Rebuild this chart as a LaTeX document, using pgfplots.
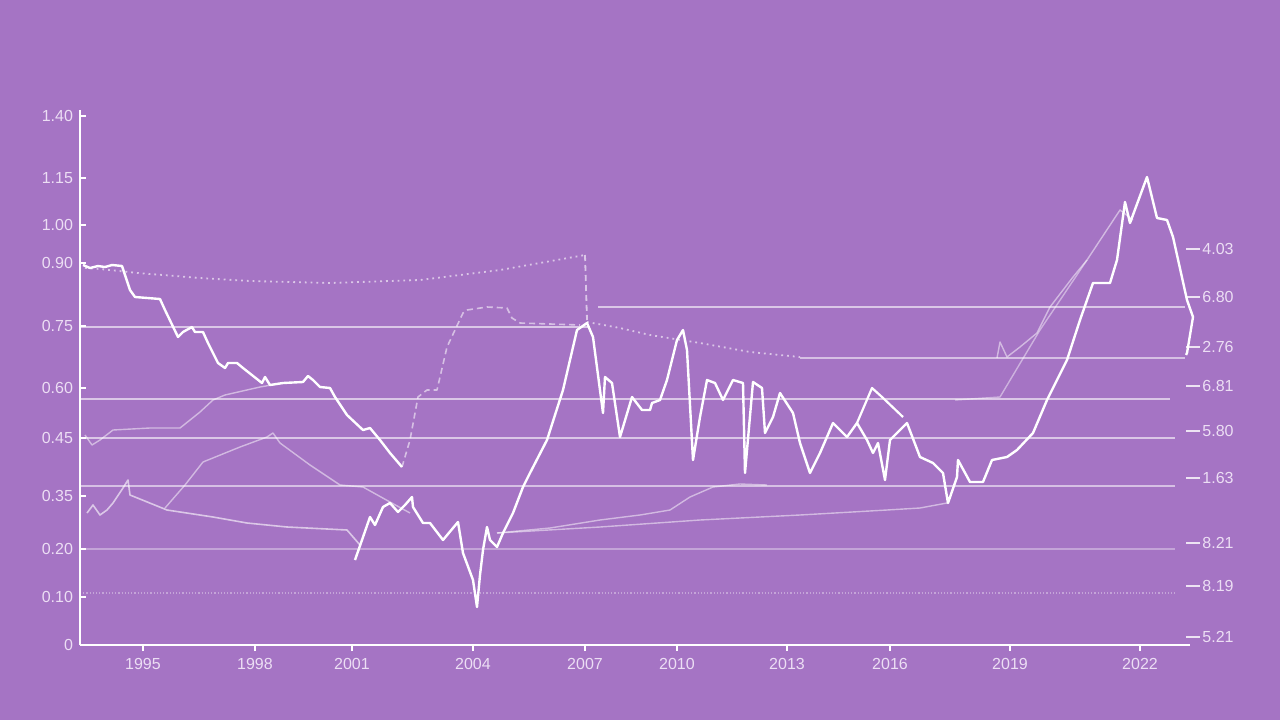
\documentclass[border=0pt]{standalone}
\usepackage{pgfplots}
\pgfplotsset{compat=1.18}
\usepackage{fontspec}
\setmainfont{Liberation Sans}
\definecolor{bg}{RGB}{165,116,196}
\definecolor{txt}{RGB}{236,222,244}
\newcommand{\rlab}[2]{%
  \draw[white, opacity=0.8, line width=0.6pt] (axis cs:1186,#1) -- (axis cs:1200,#1);
  \node[anchor=west, text=txt, font=\fontsize{8}{9}\selectfont, inner sep=1pt] at (axis cs:1200,#1) {#2};}
\begin{document}
\begin{tikzpicture}
\fill[bg] (0,0) rectangle (640pt,360pt);
\begin{axis}[
  at={(40pt,37.5pt)}, anchor=south west,
  scale only axis, width=555pt, height=267.5pt,
  xmin=80, xmax=1190, ymin=0, ymax=535,
  y filter/.expression={645-y},
  clip=false,
  axis x line=bottom, axis y line=left,
  axis line style={white, line width=1.1pt, -},
  xtick={143,255,352,473,585,677,787,890,1010,1140},
  xticklabels={1995,1998,2001,2004,2007,2010,2013,2016,2019,2022},
  ytick={529,467,420,382,319,257,207,149,96,48,0},
  yticklabels={1.40,1.15,1.00,0.90,0.75,0.60,0.45,0.35,0.20,0.10,0},
  x tick style={white, line width=0.6pt},
  y tick style={white, line width=0.6pt},
  major tick length=3pt,
  xtick align=outside, ytick align=inside,
  tick label style={text=txt, font=\fontsize{8}{9}\selectfont},
  /pgf/number format/assume math mode=true,
  every axis plot/.append style={line join=round},
]
% horizontal guide lines
\addplot[white, opacity=0.6, line width=0.7pt] coordinates {(598,307) (1185,307)};
\addplot[white, opacity=0.6, line width=0.7pt] coordinates {(80,327) (590,327)};
\addplot[white, opacity=0.55, line width=0.7pt] coordinates {(800,358) (1185,358)};
\addplot[white, opacity=0.6, line width=0.7pt] coordinates {(80,399) (1170,399)};
\addplot[white, opacity=0.6, line width=0.7pt] coordinates {(80,438) (1175,438)};
\addplot[white, opacity=0.55, line width=0.7pt] coordinates {(80,486) (1175,486)};
\addplot[white, opacity=0.35, line width=0.6pt] coordinates {(80,549) (1175,549)};
\addplot[white, opacity=0.35, line width=0.6pt, densely dotted] coordinates {(80,593) (1175,593)};
% dotted upper series
\addplot[white, opacity=0.6, line width=0.9pt, dotted] coordinates {
(85,268)(100,269)(138,273)(200,278)(250,281)(330,283)(420,280)(500,270)(585,255)};
\addplot[white, opacity=0.6, line width=0.9pt, densely dashed] coordinates {(585,255)(587,320)};
\addplot[white, opacity=0.6, line width=0.9pt, dotted] coordinates {
(587,322)(620,328)(650,335)(700,343)(750,352)(800,357)};
% faint series
\addplot[white, opacity=0.55, line width=0.8pt, densely dashed] coordinates {
(402,467)(410,440)(418,397)(427,390)(437,390)(447,347)(463,313)(467,310)(487,307)(507,308)(512,318)(520,323)(580,325)};
\addplot[white, opacity=0.6, line width=0.8pt] coordinates {
(87,513)(93,505)(100,515)(107,510)(113,503)(123,488)(128,480)(130,495)(167,510)(213,517)(247,523)(287,527)(347,530)(360,545)};
\addplot[white, opacity=0.5, line width=0.7pt] coordinates {
(165,508)(185,485)(203,462)(240,447)(267,437)(273,433)(280,443)(310,465)(340,485)(363,487)(390,502)(410,513)};
\addplot[white, opacity=0.5, line width=0.7pt] coordinates {
(85,435)(92,445)(100,440)(113,430)(150,428)(180,428)(200,412)(213,400)(225,395)(260,387)(283,383)};
\addplot[white, opacity=0.5, line width=0.7pt] coordinates {
(497,533)(550,528)(600,520)(640,515)(670,510)(690,497)(713,487)(740,484)(767,485)};
\addplot[white, opacity=0.5, line width=0.7pt] coordinates {
(497,533)(600,527)(700,520)(800,515)(887,510)(920,508)(947,503)};
\addplot[white, opacity=0.5, line width=0.7pt] coordinates {
(997,358)(1000,342)(1007,357)(1020,347)(1037,333)(1050,307)(1073,277)(1087,260)(1120,210)(1133,220)};
\addplot[white, opacity=0.45, line width=0.7pt] coordinates {
(955,400)(1000,397)(1040,330)(1087,260)};
% main bright series
\addplot[white, line width=1.2pt] coordinates {
(83,265)(90,268)(98,266)(105,267)(112,265)(122,266)(130,290)(135,297)(160,299)(165,310)(178,337)(183,332)(192,327)(195,332)(203,332)(208,343)(218,363)(225,368)(228,363)(237,363)(243,368)(262,383)(265,377)(270,385)(283,383)(303,382)(308,376)(313,380)(320,387)(330,388)(335,397)(347,415)(363,430)(370,428)(380,440)(390,453)(402,467)};
\addplot[white, line width=1.2pt] coordinates {
(355,560)(362,540)(370,517)(375,525)(383,507)(390,503)(398,512)(405,505)(412,497)(413,507)(423,523)(430,523)(443,540)(453,528)(458,522)(463,553)(473,580)(477,607)(480,575)(483,550)(487,527)(490,540)(497,547)(503,533)(513,513)(523,487)(530,473)(547,440)(563,390)(577,330)(587,323)(593,337)(603,413)(605,377)(612,383)(620,437)(632,397)(642,410)(650,410)(652,403)(660,400)(667,380)(677,340)(683,330)(687,350)(693,460)(700,417)(707,380)(715,383)(723,400)(733,380)(743,383)(745,473)(753,382)(762,388)(765,433)(773,417)(780,393)(793,413)(800,443)(810,473)(820,453)(833,423)(847,437)(857,423)(867,440)(873,453)(878,443)(885,480)(890,440)(907,423)(920,457)(933,463)(943,473)(948,503)(957,477)(958,460)(970,482)(983,482)(992,460)(1007,457)(1017,450)(1033,433)(1047,400)(1067,360)(1080,320)(1093,283)(1110,283)(1117,260)(1125,202)(1130,223)(1147,177)(1157,218)(1167,220)(1173,237)(1187,300)(1193,317)(1187,353)(1186,355)};
\addplot[white, line width=1.1pt] coordinates {(857,423)(872,388)(882,397)(903,417)};
% right-side labels
\rlab{396}{4.03}
\rlab{348}{6.80}
\rlab{298}{2.76}
\rlab{259}{6.81}
\rlab{214}{5.80}
\rlab{167}{1.63}
\rlab{102}{8.21}
\rlab{59}{8.19}
\rlab{8}{5.21}
\end{axis}
\end{tikzpicture}
\end{document}
